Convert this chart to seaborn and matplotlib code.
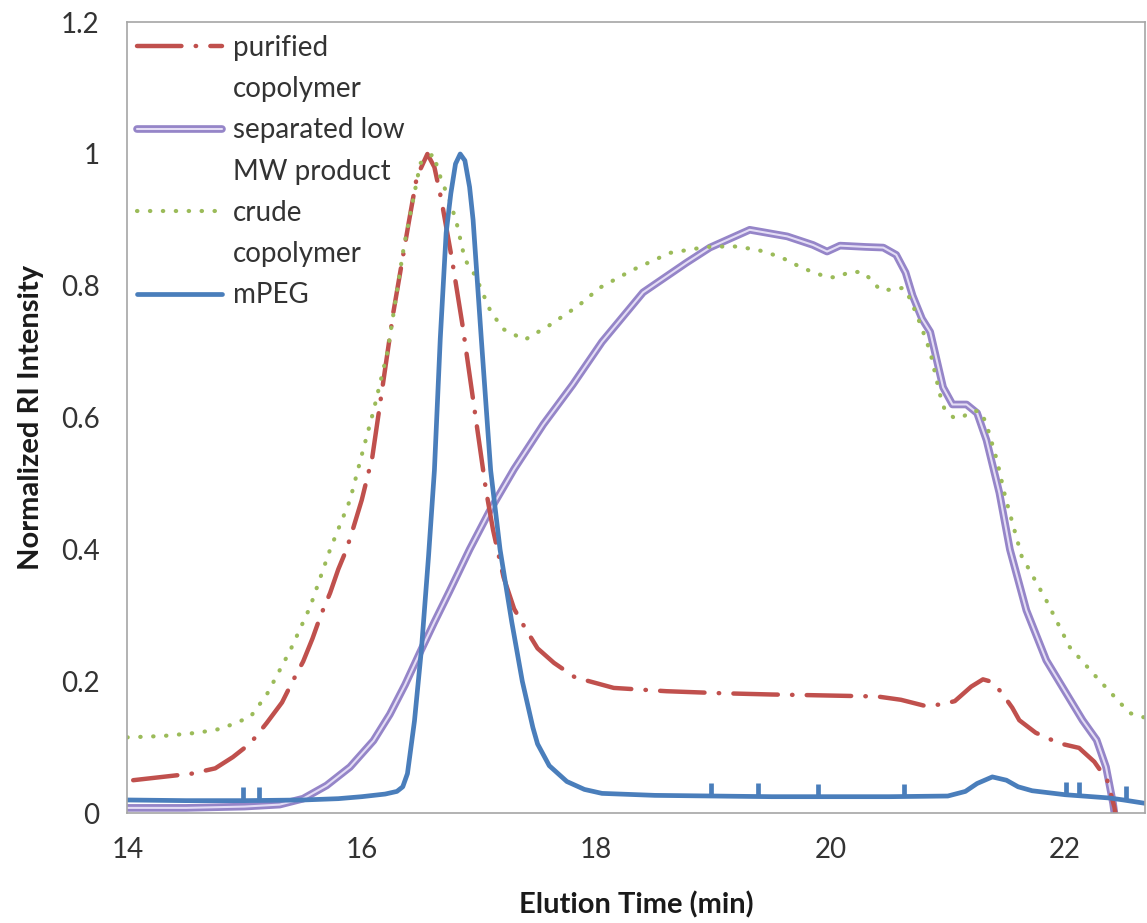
import matplotlib
matplotlib.use("Agg")
import matplotlib.pyplot as plt
import matplotlib.patheffects as pe
from matplotlib.lines import Line2D
import seaborn as sns

# GPC traces, elution time (min) vs normalized RI intensity
purified_t = [14.05, 14.3, 14.55, 14.75, 14.9, 15.05, 15.19, 15.32, 15.41, 15.5, 15.58, 15.65,
              15.73, 15.8, 15.87, 15.93, 16.0, 16.09, 16.18, 16.27, 16.4, 16.47, 16.56, 16.62,
              16.68, 16.77, 16.86, 16.94, 17.06, 17.12, 17.21, 17.3, 17.39, 17.5, 17.64, 17.82,
              18.15, 18.6, 19.06, 19.5, 19.83, 20.4, 20.6, 20.8, 20.95, 21.06, 21.2, 21.3, 21.36,
              21.45, 21.55, 21.61, 21.75, 21.95, 22.12, 22.25, 22.36, 22.42, 22.46]
purified_ri = [0.05, 0.055, 0.06, 0.068, 0.085, 0.106, 0.137, 0.168, 0.2, 0.23, 0.265, 0.3,
               0.334, 0.37, 0.4, 0.434, 0.475, 0.54, 0.65, 0.76, 0.895, 0.965, 1.0, 0.98,
               0.93, 0.84, 0.74, 0.64, 0.49, 0.43, 0.358, 0.31, 0.282, 0.25, 0.228, 0.206,
               0.19, 0.185, 0.182, 0.18, 0.179, 0.177, 0.172, 0.163, 0.165, 0.17, 0.192, 0.203, 0.2,
               0.185, 0.16, 0.141, 0.122, 0.106, 0.099, 0.078, 0.05, 0.01, -0.03]

separated_t = [14.0, 14.5, 15.0, 15.3, 15.5, 15.7, 15.9, 16.1, 16.24, 16.37, 16.5, 16.62, 16.75,
               16.92, 17.09, 17.3, 17.55, 17.8, 18.05, 18.4, 18.77, 18.97, 19.31, 19.63, 19.85,
               19.97, 20.08, 20.3, 20.45, 20.56, 20.64, 20.7, 20.78, 20.85, 20.96, 21.04, 21.16,
               21.25, 21.33, 21.44, 21.53, 21.67, 21.84, 22.01, 22.15, 22.27, 22.35, 22.41, 22.46]
separated_ri = [0.008, 0.008, 0.01, 0.013, 0.022, 0.042, 0.07, 0.11, 0.15, 0.195, 0.245, 0.29, 0.337,
                0.4, 0.458, 0.522, 0.59, 0.65, 0.715, 0.79, 0.835, 0.858, 0.885, 0.875, 0.862,
                0.852, 0.861, 0.859, 0.858, 0.847, 0.82, 0.785, 0.75, 0.73, 0.646, 0.62, 0.62,
                0.607, 0.566, 0.486, 0.4, 0.308, 0.232, 0.182, 0.141, 0.111, 0.07, 0.015, -0.05]

crude_t = [14.0, 14.3, 14.6, 14.8, 15.05, 15.19, 15.39, 15.56, 15.73, 15.9, 16.01, 16.1, 16.22,
           16.36, 16.5, 16.61, 16.68, 16.75, 16.81, 16.88, 16.97, 17.09, 17.2, 17.39, 17.6, 17.85,
           18.03, 18.31, 18.63, 18.94, 19.17, 19.37, 19.57, 19.76, 19.97, 20.06, 20.16, 20.27,
           20.35, 20.42, 20.52, 20.62, 20.68, 20.77, 20.85, 20.93, 20.97, 21.05, 21.12, 21.2,
           21.28, 21.33, 21.42, 21.49, 21.63, 21.84, 22.04, 22.27, 22.55, 22.68]
crude_ri = [0.115, 0.117, 0.122, 0.128, 0.146, 0.18, 0.247, 0.313, 0.4, 0.475, 0.55, 0.61, 0.7,
            0.86, 0.986, 1.0, 0.96, 0.93, 0.895, 0.84, 0.815, 0.765, 0.735, 0.718, 0.74, 0.77,
            0.797, 0.824, 0.85, 0.859, 0.86, 0.855, 0.844, 0.827, 0.813, 0.813, 0.821, 0.821,
            0.809, 0.794, 0.794, 0.797, 0.78, 0.74, 0.70, 0.637, 0.614, 0.6, 0.6, 0.61,
            0.61, 0.59, 0.535, 0.48, 0.39, 0.323, 0.252, 0.206, 0.152, 0.145]

mpeg_t = [14.0, 14.5, 15.0, 15.5, 15.8, 16.0, 16.2, 16.3, 16.35, 16.39, 16.45, 16.51, 16.57,
          16.62, 16.67, 16.72, 16.76, 16.8, 16.84, 16.88, 16.92, 16.95, 17.02, 17.1, 17.18,
          17.28, 17.37, 17.46, 17.5, 17.6, 17.75, 17.9, 18.05, 18.5, 19.0, 19.5, 20.0, 20.5,
          21.0, 21.15, 21.25, 21.38, 21.5, 21.6, 21.72, 22.0, 22.38, 22.5, 22.68]
mpeg_ri = [0.02, 0.019, 0.019, 0.02, 0.022, 0.025, 0.029, 0.033, 0.04, 0.06, 0.14, 0.25, 0.39,
           0.52, 0.72, 0.88, 0.94, 0.985, 1.0, 0.99, 0.95, 0.9, 0.72, 0.52, 0.40,
           0.29, 0.2, 0.13, 0.105, 0.072, 0.048, 0.036, 0.03, 0.027, 0.026, 0.025, 0.025, 0.025,
           0.026, 0.033, 0.045, 0.055, 0.05, 0.04, 0.034, 0.028, 0.023, 0.02, 0.015]
# small injection marks on the mPEG trace
spike_t = [14.99, 15.12, 18.98, 19.38, 19.89, 20.63, 22.01, 22.12, 22.52]
spike_base = [0.019, 0.019, 0.026, 0.026, 0.025, 0.025, 0.028, 0.027, 0.021]
spike_top = [0.04, 0.04, 0.046, 0.046, 0.045, 0.045, 0.048, 0.047, 0.041]

legend_labels = ["purified", "copolymer", "separated low", "MW product", "crude", "copolymer", "mPEG"]

RED = "#c0504d"
PURPLE = "#9585c8"
PURPLE_IN = "#e4ddf5"
GREEN = "#9bbb59"
BLUE = "#4a7ebb"

sns.set_style("white")
plt.rcParams['font.family'] = ['Lato', 'DejaVu Sans']

fig = plt.figure(figsize=(11.47, 9.23), dpi=100)
ax = fig.add_axes([0.111, 0.119, 0.887, 0.857])

sns.lineplot(x=separated_t, y=separated_ri, ax=ax, color=PURPLE_IN, lw=1.5, estimator=None, sort=False,
             path_effects=[pe.Stroke(linewidth=5.5, foreground=PURPLE), pe.Normal()])
sns.lineplot(x=purified_t, y=purified_ri, ax=ax, color=RED, lw=3.2, estimator=None, sort=False,
             linestyle=(0, (10, 3.2, 0.1, 3.2)), dash_capstyle='round')
sns.lineplot(x=crude_t, y=crude_ri, ax=ax, color=GREEN, lw=3.0, estimator=None, sort=False,
             linestyle=(0, (0.1, 3.0)), dash_capstyle='round')
sns.lineplot(x=mpeg_t, y=mpeg_ri, ax=ax, color=BLUE, lw=3.4, estimator=None, sort=False)
ax.vlines(spike_t, spike_base, spike_top, color=BLUE, lw=3.4)

ax.set_xlim(14, 22.68)
ax.set_ylim(0, 1.2)
ax.set_xticks([14, 16, 18, 20, 22])
ax.set_yticks([0, 0.2, 0.4, 0.6, 0.8, 1, 1.2])
ax.set_yticklabels(["0", "0.2", "0.4", "0.6", "0.8", "1", "1.2"])

for s in ax.spines.values():
    s.set_color("#a6a6a6")
    s.set_linewidth(1.2)
ax.tick_params(axis='both', direction='out', length=7, width=1.2, color="#a6a6a6",
               labelsize=20, labelcolor="#333333")
ax.tick_params(axis='x', pad=10)
ax.tick_params(axis='y', pad=13)

ax.set_xlabel("Elution Time (min)", fontsize=21, fontweight='bold', color="#1a1a1a")
ax.set_ylabel("Normalized RI Intensity", fontsize=21, fontweight='bold', color="#1a1a1a")
ax.xaxis.set_label_coords(0.5, -0.116)
ax.xaxis.label.set_va('center')
ax.yaxis.set_label_coords(-0.095, 0.5)
ax.yaxis.label.set_va('center')

lines = ax.get_lines()
blank = Line2D([], [], linestyle='none')
handles = [lines[1], blank, lines[0], blank, lines[2], blank, lines[3]]
ax.legend(handles, legend_labels, loc='upper left', bbox_to_anchor=(0.01, 0.984),
          frameon=False, fontsize=20, handlelength=3.05, handletextpad=0.4,
          labelspacing=0.55, borderpad=0, borderaxespad=0, labelcolor="#333333")

fig.savefig("out.png", dpi=100)
